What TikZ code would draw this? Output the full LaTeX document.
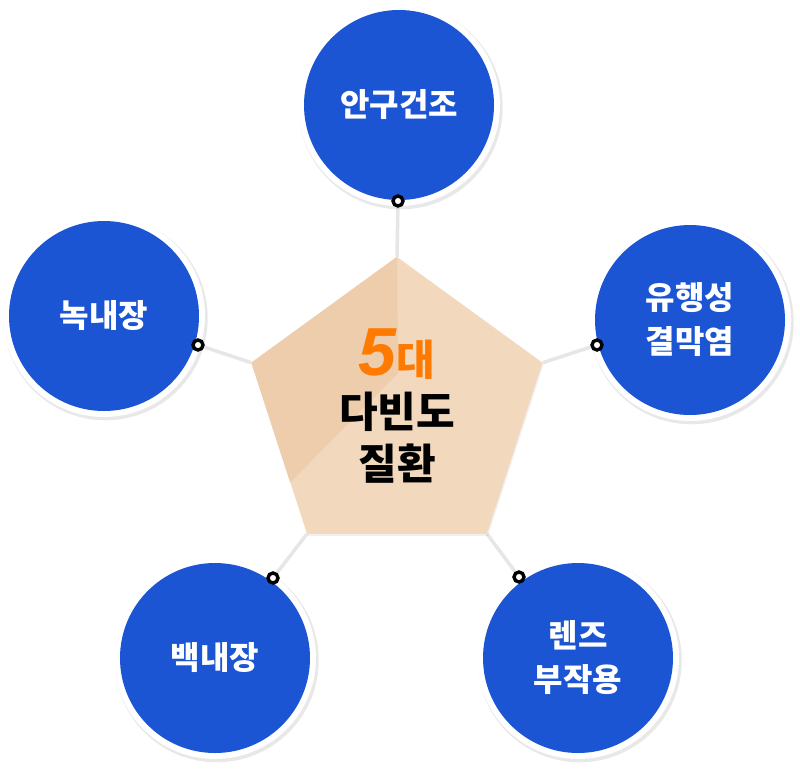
\documentclass[tikz,border=0pt]{standalone}
\usepackage{fontspec}
\usepackage{xcolor}
\usetikzlibrary{shapes.geometric, shadows, backgrounds, calc}
\newfontfamily\krfont{Noto Sans CJK KR}
\newfontfamily\numfont{Liberation Sans}
\definecolor{eyeblue}{HTML}{1B55D3}
\definecolor{peach}{HTML}{F2D8BD}
\definecolor{peachdark}{HTML}{EDCDAC}
\definecolor{fiveorange}{HTML}{FF7A00}
\definecolor{linkgray}{HTML}{E6E6E6}

\begin{document}
\begin{tikzpicture}[x=1pt, y=-1pt,
    disease/.style={circle, fill=eyeblue, minimum size=190pt, inner sep=0pt,
        drop shadow={opacity=0.18, shadow scale=1.075, shadow xshift=1.5pt, shadow yshift=-2pt},
        preaction={draw=white, line width=12pt},
        text=white, align=center, font=\krfont\bfseries\fontsize{32}{44}\selectfont},
    pin/.style={circle, draw=black, fill=white, line width=3.4pt, minimum size=10pt, inner sep=0pt},
    link/.style={draw=linkgray, line width=3.5pt}]
    \useasboundingbox (0,0) rectangle (800,769);

    % center pentagon
    \node[regular polygon, regular polygon sides=5, minimum size=306pt, inner sep=0pt,
        fill=peach, drop shadow={opacity=0.12, shadow xshift=1pt, shadow yshift=-2pt}] (core) at (397,410) {};
    \fill[peachdark] (core.corner 1) -- (core.corner 2)
        -- ($(core.corner 2)!0.7!(core.corner 3)$) -- (398,373) -- cycle;
    \node[align=center, font=\krfont\bfseries\fontsize{42}{52}\selectfont] (title) at (397,406)
        {{\color{fiveorange}\numfont\bfseries\itshape\fontsize{68}{52}\selectfont 5}{\color{fiveorange}대}\\다빈도\\질환};

    % five diseases
    \node[disease] (dry) at (399,105) {안구건조};
    \node[disease] (glaucoma) at (104,316) {녹내장};
    \node[disease] (conj) at (690,320) {유행성\\결막염};
    \node[disease] (cataract) at (215,658) {백내장};
    \node[disease] (lens) at (578,658) {렌즈\\부작용};

    % pins on the rings
    \node[pin] (dryPin) at (398,201) {};
    \node[pin] (glaucomaPin) at (198,345) {};
    \node[pin] (conjPin) at (597,345) {};
    \node[pin] (cataractPin) at (273,578) {};
    \node[pin] (lensPin) at (519,577) {};

    \begin{scope}[on background layer]
        \draw[link] (dryPin) -- (core.corner 1);
        \draw[link] (glaucomaPin) -- (core.corner 2);
        \draw[link] (cataractPin) -- (core.corner 3);
        \draw[link] (lensPin) -- (core.corner 4);
        \draw[link] (conjPin) -- (core.corner 5);
    \end{scope}
\end{tikzpicture}
\end{document}
